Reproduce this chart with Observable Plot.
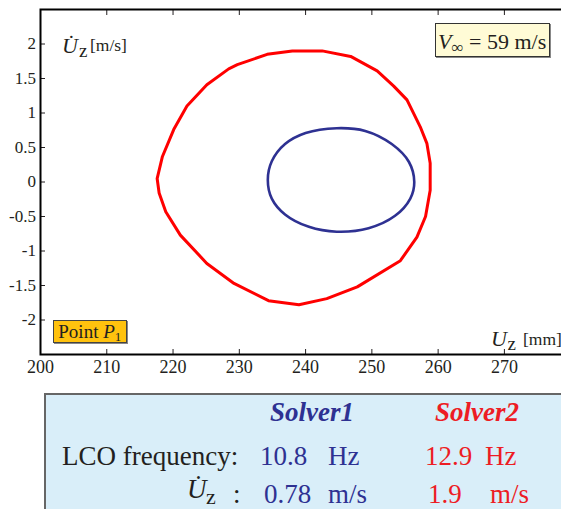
<!DOCTYPE html>
<html>
<head>
<meta charset="utf-8">
<script src="https://cdn.jsdelivr.net/npm/d3@7"></script>
<script src="https://cdn.jsdelivr.net/npm/@observablehq/plot@0.6"></script>
<style>
  body { margin: 0; background: #fff; font-family: "Liberation Serif", "Times New Roman", serif; }
  #wrap { position: relative; width: 561px; height: 509px; overflow: hidden; background: #fff; }
  #chart { position: absolute; left: 0; top: 0; width: 600px; }
  #chart svg { max-width: none !important; }
  #chart svg text { font-family: "Liberation Serif", "Times New Roman", serif !important; fill: #231f20; }
  .lbl { position: absolute; white-space: pre; color: #231f20; }
  .box { position: absolute; box-sizing: border-box; }
</style>
</head>
<body>
<div id="wrap"><div id="chart"></div></div>
<script>
// ---- data ----
const xTicks = [200, 210, 220, 230, 240, 250, 260, 270];
const yTicks = [-2, -1.5, -1, -0.5, 0, 0.5, 1, 1.5, 2];
const xDomain = [200, 284.5];
const yDomain = [-2.5, 2.5];

// Solver1 (blue) phase-plane loop: Uz [mm] vs dUz/dt [m/s]
const solver1X = [244.7, 240.0, 236.9, 234.9, 234.3, 234.9, 236.9, 240.5, 244.7, 249.5, 253.5, 255.8, 256.4, 255.6, 253.0, 249.0];
const solver1Y = [0.78, 0.71, 0.55, 0.30, 0.03, -0.24, -0.47, -0.65, -0.72, -0.67, -0.49, -0.24, 0.00, 0.29, 0.55, 0.74];

// Solver2 (red) phase-plane loop
const solver2X = [242.5, 238.0, 234.2, 229.7, 228.4, 225.1, 222.1, 220.1, 218.4, 217.6, 217.9, 218.9, 221.1, 225.1, 229.2, 234.4, 239.0, 243.2, 247.8, 254.3, 256.8, 258.1, 258.8, 258.8, 258.3, 257.3, 255.3, 253.3, 250.8, 246.8];
const solver2Y = [1.90, 1.90, 1.85, 1.70, 1.64, 1.41, 1.10, 0.76, 0.37, 0.05, -0.16, -0.43, -0.77, -1.18, -1.47, -1.72, -1.78, -1.69, -1.52, -1.14, -0.80, -0.50, -0.12, 0.27, 0.56, 0.80, 1.19, 1.39, 1.61, 1.82];

const solverNames = ["Solver1", "Solver2"];
const lcoFrequency = ["10.8", "12.9"];
const lcoUnits = "Hz";
const velocityAmp = ["0.78", "1.9"];
const velocityUnits = "m/s";
const freestream = "59 m/s";

const blue = "#2e3192";
const red = "#ed1c24";
const serif = "Liberation Serif";

const s1 = solver1X.map((x, i) => ({x, y: solver1Y[i]}));
const s2 = solver2X.map((x, i) => ({x, y: solver2Y[i]}));

const plot = Plot.plot({
  width: 600,
  height: 385,
  marginLeft: 40,
  marginRight: 0,
  marginTop: 9,
  marginBottom: 31,
  style: {fontFamily: serif, fontSize: "17px", color: "#231f20", background: "transparent", maxWidth: "none"},
  x: {domain: xDomain},
  y: {domain: yDomain},
  marks: [
    Plot.line(s2, {x: "x", y: "y", stroke: "#ff0000", strokeWidth: 3, curve: "linear-closed"}),
    Plot.line(s1, {x: "x", y: "y", stroke: blue, strokeWidth: 2.6, curve: "catmull-rom-closed"}),
    Plot.axisX(xTicks, {anchor: "bottom", tickSize: -5, tickPadding: 11, fontSize: 18, fontFamily: serif, label: null, tickFormat: d => String(d)}),
    Plot.axisX(xTicks, {anchor: "top", tickSize: -5, tickFormat: () => "", label: null}),
    Plot.axisY(yTicks, {anchor: "left", tickSize: -5, tickPadding: 9.5, fontSize: 17, fontFamily: serif, label: null, tickFormat: d => String(d)}),
    Plot.frame({stroke: "#000", strokeWidth: 2})
  ]
});
plot.style.maxWidth = "none";
plot.style.width = "600px";
plot.style.height = "385px";
document.getElementById("chart").appendChild(plot);

const wrap = document.getElementById("wrap");
function place(html, x, base, size, style = "") {
  const d = document.createElement("div");
  d.className = "lbl";
  d.style.cssText = `left:${x}px;top:${base - 0.8375 * size}px;font-size:${size}px;line-height:${size}px;${style}`;
  d.innerHTML = html;
  wrap.appendChild(d);
  return d;
}
function box(x, y, w, h, style) {
  const d = document.createElement("div");
  d.className = "box";
  d.style.cssText = `left:${x}px;top:${y}px;width:${w}px;height:${h}px;${style}`;
  wrap.appendChild(d);
  return d;
}

// axis titles inside the frame
place("<i>U\u0307</i>", 62, 53.3, 22);
place("z", 79, 56.7, 19);
place("[m/s]", 90, 52, 17.5);
place("<i>U</i>", 491, 346.7, 22);
place("z", 507.5, 350, 19);
place("[mm]", 523, 346, 17.5);

// annotation boxes
box(435, 23, 115, 34, "background:#fffbd6;border:1px solid #333;box-shadow:1px 1px 0 #888;");
place(`<i>V</i><span style="font-size:17px;position:relative;top:4px">\u221e</span> = ${freestream}`, 438, 49, 22);
box(53, 320, 74, 23, "background:#ffc20e;border:1px solid #444;box-shadow:1px 1px 0 #888;");
place(`Point <i>P</i><span style="font-size:13px;position:relative;top:3px">1</span>`, 58.3, 338.3, 19);

// results table
box(44, 393, 600, 200, "background:#d9eef9;border:2px solid #666;");
place(`<b><i>${solverNames[0]}</i></b>`, 270, 422, 27, `color:${blue}`);
place(`<b><i>${solverNames[1]}</i></b>`, 435, 422, 27, `color:${red}`);
place("LCO frequency:", 62, 466, 27);
place(lcoFrequency[0], 260, 466, 27, `color:${blue}`);
place(lcoUnits, 328, 466, 27, `color:${blue}`);
place(lcoFrequency[1], 425, 466, 27, `color:${red}`);
place(lcoUnits, 485, 466, 27, `color:${red}`);
place("<i>U\u0307</i>", 187, 499, 27);
place("z", 206, 504, 22);
place(":", 233, 504, 27);
place(velocityAmp[0], 264, 504, 27, `color:${blue}`);
place(velocityUnits, 328, 504, 27, `color:${blue}`);
place(velocityAmp[1], 428, 504, 27, `color:${red}`);
place(velocityUnits, 490, 504, 27, `color:${red}`);
</script>
</body>
</html>
